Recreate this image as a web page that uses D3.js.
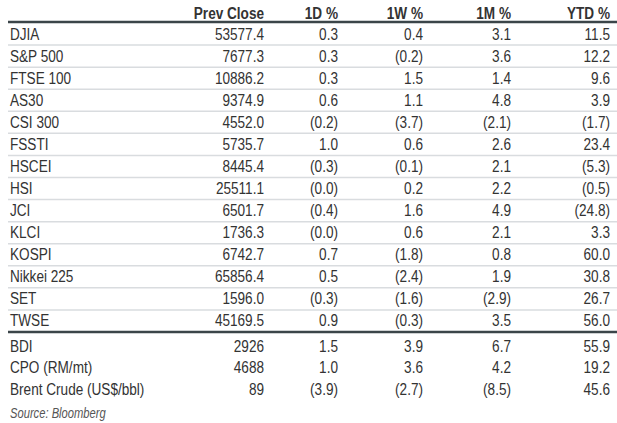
<!DOCTYPE html>
<html><head><meta charset="utf-8">
<script src="https://cdn.jsdelivr.net/npm/d3@7"></script>
<style>
body { margin: 0; background: #fff; }
text { font-family: "Liberation Sans", Arial, sans-serif; fill: #333; }
</style></head>
<body>
<svg id="c" width="617" height="423"></svg>
<script>
var columns = ["Prev Close", "1D %", "1W %", "1M %", "YTD %"];
var indexNames = ["DJIA", "S&P 500", "FTSE 100", "AS30", "CSI 300", "FSSTI", "HSCEI", "HSI", "JCI", "KLCI", "KOSPI", "Nikkei 225", "SET", "TWSE"];
var indexValues = [
    ["53577.4", "0.3", "0.4", "3.1", "11.5"],
    ["7677.3", "0.3", "(0.2)", "3.6", "12.2"],
    ["10886.2", "0.3", "1.5", "1.4", "9.6"],
    ["9374.9", "0.6", "1.1", "4.8", "3.9"],
    ["4552.0", "(0.2)", "(3.7)", "(2.1)", "(1.7)"],
    ["5735.7", "1.0", "0.6", "2.6", "23.4"],
    ["8445.4", "(0.3)", "(0.1)", "2.1", "(5.3)"],
    ["25511.1", "(0.0)", "0.2", "2.2", "(0.5)"],
    ["6501.7", "(0.4)", "1.6", "4.9", "(24.8)"],
    ["1736.3", "(0.0)", "0.6", "2.1", "3.3"],
    ["6742.7", "0.7", "(1.8)", "0.8", "60.0"],
    ["65856.4", "0.5", "(2.4)", "1.9", "30.8"],
    ["1596.0", "(0.3)", "(1.6)", "(2.9)", "26.7"],
    ["45169.5", "0.9", "(0.3)", "3.5", "56.0"]
];
var commodityNames = ["BDI", "CPO (RM/mt)", "Brent Crude (US$/bbl)"];
var commodityValues = [
    ["2926", "1.5", "3.9", "6.7", "55.9"],
    ["4688", "1.0", "3.6", "4.2", "19.2"],
    ["89", "(3.9)", "(2.7)", "(8.5)", "45.6"]
];

var svg = d3.select("#c");
var FS = 17;
var SX = 0.8; // squeeze horizontally to mimic a narrow face
var ROW_H = 22.07;
var LEFT = 8, TEXT_X = 10;

var colX = d3.scaleOrdinal().domain(columns).range([264, 338, 423, 511, 610]);

function narrow(parent, x, y, str, anchor, size) {
    return parent.append("text")
        .attr("transform", "translate(" + x + "," + y + ") scale(" + SX + ",1)")
        .attr("text-anchor", anchor || "start")
        .style("font-size", size || FS)
        .text(str);
}

// header
columns.forEach(function(c) {
    narrow(svg, colX(c), 19, c, "end").style("font-weight", "bold");
});

var yTop = d3.scaleLinear().domain([0, indexNames.length]).range([23, 23 + ROW_H * indexNames.length]);

function drawRows(names, values, y, lines) {
    names.forEach(function(n, i) {
        var g = svg.append("g");
        narrow(g, TEXT_X, y(i) + 16.5, n);
        values[i].forEach(function(v, j) {
            narrow(g, colX(columns[j]), y(i) + 16.5, v, "end");
        });
        if (lines && i < names.length - 1) {
            g.append("line").attr("x1", LEFT).attr("x2", 617)
                .attr("y1", y(i + 1)).attr("y2", y(i + 1))
                .attr("stroke", "#d9dcdf").attr("stroke-width", 1.5);
        }
    });
}

drawRows(indexNames, indexValues, yTop, true);

var yBot = d3.scaleLinear().domain([0, commodityNames.length]).range([335, 335 + 21.5 * commodityNames.length]);
drawRows(commodityNames, commodityValues, yBot, false);

// thick rules
[22, yTop(indexNames.length)].forEach(function(y) {
    svg.append("line").attr("x1", LEFT).attr("x2", 617).attr("y1", y).attr("y2", y)
        .attr("stroke", "#3b4549").attr("stroke-width", 2.5);
});

narrow(svg, TEXT_X, 418, "Source: Bloomberg", "start", 14)
    .style("font-style", "italic").style("fill", "#555");
</script>
</body></html>
